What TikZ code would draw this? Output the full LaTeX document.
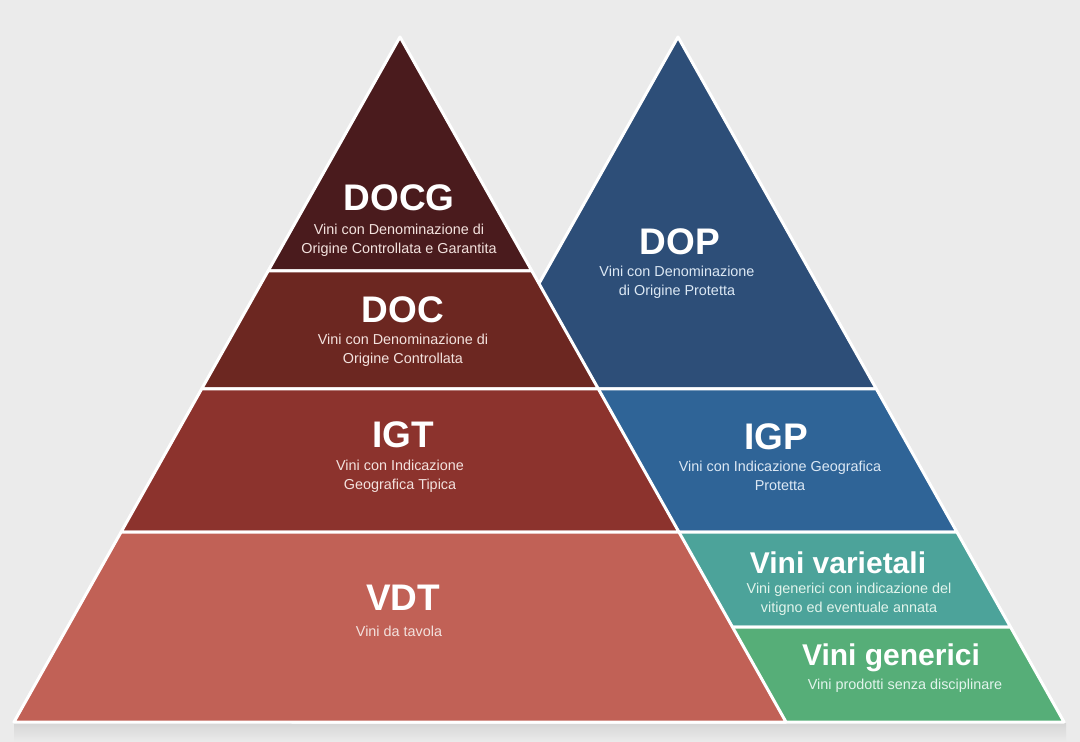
\documentclass[tikz,border=0pt]{standalone}
\usepackage{fontspec}
\setmainfont{Liberation Sans}
\definecolor{bg}{HTML}{EBEBEB}
\definecolor{docgc}{HTML}{4A1B1D}
\definecolor{docc}{HTML}{6C2721}
\definecolor{igtc}{HTML}{8C332D}
\definecolor{vdtc}{HTML}{C16156}
\definecolor{dopc}{HTML}{2D4E78}
\definecolor{igpc}{HTML}{2F6497}
\definecolor{varc}{HTML}{4CA39A}
\definecolor{genc}{HTML}{56AE78}
\definecolor{subred}{HTML}{F3E2DE}
\definecolor{subblue}{HTML}{DCE8F4}
\definecolor{subgreen}{HTML}{E2F4EC}
\tikzset{
  band/.style={draw=white,line width=1.5pt,line join=round},
  title/.style={text=white,font=\bfseries\fontsize{18.5}{20}\selectfont,inner sep=0pt},
  smalltitle/.style={text=white,font=\bfseries\fontsize{15}{17}\selectfont,inner sep=0pt},
  sub/.style={font=\fontsize{7.2}{9.5}\selectfont,align=center,inner sep=0pt},
}

\begin{document}
\begin{tikzpicture}[x=0.5pt,y=-0.5pt]
    \fill[bg] (0,0) rectangle (1080,742);
    \useasboundingbox (0,0) rectangle (1080,742);
    \shade[top color=black!16,bottom color=bg] (14,723) rectangle (1066,742);
    \begin{scope}[band]
      \filldraw[fill=dopc] (678,37)--(876.4,389)--(479.6,389)--cycle;
      \filldraw[fill=igpc] (479.6,389)--(876.4,389)--(956.9,532)--(399.1,532)--cycle;
      \filldraw[fill=varc] (399.1,532)--(956.9,532)--(1010.5,627)--(345.5,627)--cycle;
      \filldraw[fill=genc] (345.5,627)--(1010.5,627)--(1064,722)--(292,722)--cycle;
    \end{scope}
    \begin{scope}[band]
      \filldraw[fill=docgc] (400,37)--(531.9,271)--(268.1,271)--cycle;
      \filldraw[fill=docc] (268.1,271)--(531.9,271)--(598.4,389)--(201.6,389)--cycle;
      \filldraw[fill=igtc] (201.6,389)--(598.4,389)--(678.9,532)--(121.1,532)--cycle;
      \filldraw[fill=vdtc] (121.1,532)--(678.9,532)--(786,722)--(14,722)--cycle;
    \end{scope}
    \node[title] (docg) at (399,198) {DOCG};
    \node[sub,text=subred] (docg-sub) at (399,240.5) {Vini con Denominazione di\\Origine Controllata e Garantita};
    \node[title] (doc) at (403,310) {DOC};
    \node[sub,text=subred] (doc-sub) at (403,350.5) {Vini con Denominazione di\\Origine Controllata};
    \node[title] (igt) at (403,435) {IGT};
    \node[sub,text=subred] (igt-sub) at (400,476) {Vini con Indicazione\\Geografica Tipica};
    \node[title] (vdt) at (403,598) {VDT};
    \node[sub,text=subred] (vdt-sub) at (399,631) {Vini da tavola};
    \node[title] (dop) at (680,242) {DOP};
    \node[sub,text=subblue] (dop-sub) at (677,282.5) {Vini con Denominazione\\di Origine Protetta};
    \node[title] (igp) at (776,437) {IGP};
    \node[sub,text=subblue] (igp-sub) at (780,476) {Vini con Indicazione Geografica\\Protetta};
    \node[smalltitle] (var) at (838,563) {Vini varietali};
    \node[sub,text=subgreen] (var-sub) at (849,599) {Vini generici con indicazione del\\vitigno ed eventuale annata};
    \node[smalltitle] (gen) at (891,658) {Vini generici};
    \node[sub,text=subgreen] (gen-sub) at (905,686) {Vini prodotti senza disciplinare};
  \end{tikzpicture}
\end{document}
